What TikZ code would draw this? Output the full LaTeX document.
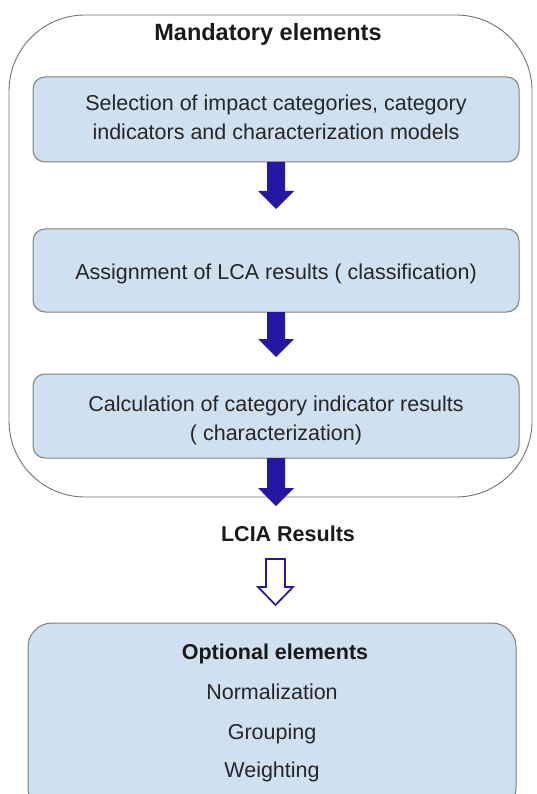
\documentclass[tikz,border=0pt]{standalone}
\usepackage{fontspec}
\setmainfont{Liberation Sans}
\begin{document}
\begin{tikzpicture}[x=1pt,y=-1pt,
  stepbox/.style={draw=black!50, line width=1pt, fill=boxblue, rounded corners=12pt},
  solidarrow/.style={fill=arrowblue, draw=none},
  hollowarrow/.style={fill=white, draw=arrowblue, line width=1.7pt, line join=miter},
  txt/.style={font=\fontsize{21.5}{29}\selectfont, text=black!85, align=center},
  btxt/.style={font=\fontsize{21.5}{24}\selectfont\bfseries, text=black!90, align=center}]
\definecolor{boxblue}{HTML}{CFE0F1}
\definecolor{arrowblue}{HTML}{2218A2}
\useasboundingbox (0,0) rectangle (536,794);

% outer frame for the mandatory elements
\draw[black!55, line width=0.9pt, rounded corners=76pt, fill=white] (9,15) rectangle (532,497);
\node[btxt, font=\fontsize{23.5}{26}\selectfont\bfseries] (mand) at (268,34) {Mandatory elements};

% the three mandatory steps
\draw[stepbox] (33,77) rectangle (519,162);
\node[txt] (s1) at (276,117) {Selection of impact categories, category\\indicators and characterization models};
\draw[stepbox] (33,229) rectangle (519,312);
\node[txt] (s2) at (276,274) {Assignment of LCA results ( classification)};
\draw[stepbox] (33,374) rectangle (519,458);
\node[txt] (s3) at (276,420) {Calculation of category indicator results\\( characterization)};

% solid block arrows between the steps
\newcommand{\blockarrow}[4]{% x-centre, top, head start, tip
  \fill[solidarrow] (#1-9,#2) -- (#1+9,#2) -- (#1+9,#3) -- (#1+18,#3) -- (#1,#4)
    -- (#1-18,#3) -- (#1-9,#3) -- cycle;}
\blockarrow{276}{162}{191}{209}
\blockarrow{276}{312}{339}{357}
\blockarrow{276}{458}{488}{506}

\node[btxt] (res) at (288,534) {LCIA Results};

% hollow arrow to the optional part
\draw[hollowarrow] (266,559) -- (285,559) -- (285,587) -- (293,587) -- (275.5,605)
  -- (258,587) -- (266,587) -- cycle;

% optional elements
\draw[stepbox, rounded corners=24pt] (28,623) rectangle (516,812);
\node[btxt] (opt) at (275,654) {Optional elements};
\node[txt] (n1) at (272,692) {Normalization};
\node[txt] (n2) at (272,734) {Grouping};
\node[txt] (n3) at (272,772) {Weighting};
\end{tikzpicture}
\end{document}
